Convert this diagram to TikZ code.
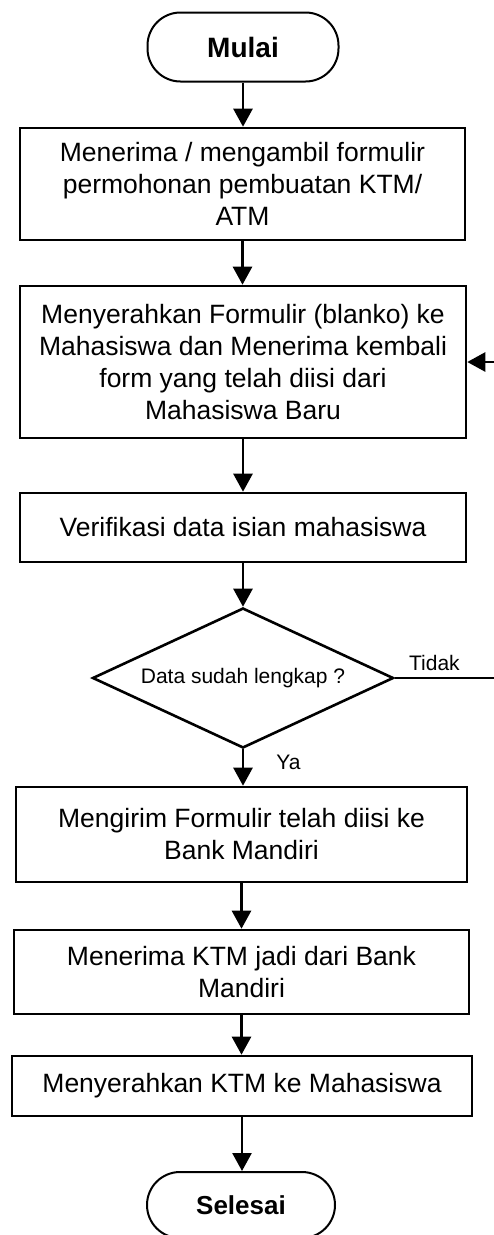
\documentclass[tikz,border=0pt]{standalone}
\usepackage{fontspec}
\setmainfont{Liberation Sans}
\usepackage{tikz}
\usetikzlibrary{arrows.meta,positioning,shapes.geometric}
\tikzset{
  proses/.style={rectangle,draw=black,line width=2.6pt,align=center,inner sep=0pt,
    font=\fontsize{26.5}{32}\selectfont},
  terminal/.style={rectangle,rounded corners=33pt,draw=black,line width=2pt,
    align=center,inner sep=0pt},
  keputusan/.style={diamond,draw=black,line width=2.6pt,aspect=2.15,inner sep=0pt,
    font=\fontsize{21}{25}\selectfont},
  alur/.style={-{Triangle[length=18pt,width=19pt]},line width=2.6pt},
  keterangan/.style={font=\fontsize{21}{25}\selectfont,inner sep=2pt}
}
\begin{document}
\begin{tikzpicture}[x=1pt,y=-1pt]
\useasboundingbox (0,0) rectangle (494,1235);

% 1. Mulai dan penerimaan formulir
\node[terminal,minimum width=191pt,minimum height=69pt,font=\fontsize{28}{32}\selectfont\bfseries]
  (mulai) at (243,47) {Mulai};
\node[proses,minimum width=445pt,minimum height=112pt] (terima) at (242.5,184)
  {Menerima / mengambil formulir\\permohonan pembuatan KTM/\\ATM};
\node[proses,minimum width=446pt,minimum height=152pt] (serah) at (243,362)
  {Menyerahkan Formulir (blanko) ke\\Mahasiswa dan Menerima kembali\\form yang telah diisi dari\\Mahasiswa Baru};
\node[proses,minimum width=446pt,minimum height=69pt] (verif) at (243,527.5)
  {Verifikasi data isian mahasiswa};

\draw[alur] (mulai.south)--(mulai.south |- terima.north);
\draw[alur] (terima.south)--(terima.south |- serah.north);
\draw[alur] (serah.south)--(serah.south |- verif.north);

% 2. Pemeriksaan kelengkapan data
\node[keputusan,minimum width=301pt,minimum height=140pt] (cek) at (243,678)
  {Data sudah lengkap ?};

\draw[alur] (verif)--(cek);
\draw[alur] (cek.east)--node[keterangan,above=4pt,pos=0.36]{Tidak} ++(110,0) |- (serah.east);

% 3. Pengiriman ke bank dan penyerahan KTM
\node[proses,minimum width=451pt,minimum height=95pt] (kirim) at (241.5,834.5)
  {Mengirim Formulir telah diisi ke\\Bank Mandiri};
\node[proses,minimum width=455pt,minimum height=84pt] (jadi) at (241.5,972)
  {Menerima KTM jadi dari Bank\\Mandiri};
\node[proses,minimum width=460pt,minimum height=60pt] (ktm) at (242,1086)
  {Menyerahkan KTM ke Mahasiswa};
\node[terminal,minimum width=188pt,minimum height=66pt,font=\fontsize{26}{30}\selectfont\bfseries]
  (selesai) at (241,1205) {Selesai};

\draw[alur] (cek.south)--node[keterangan,pos=0.36,right=30pt]{Ya}(cek.south |- kirim.north);
\draw[alur] (kirim.south)--(kirim.south |- jadi.north);
\draw[alur] (jadi.south)--(jadi.south |- ktm.north);
\draw[alur] (ktm.south)--(ktm.south |- selesai.north);

\end{tikzpicture}
\end{document}
